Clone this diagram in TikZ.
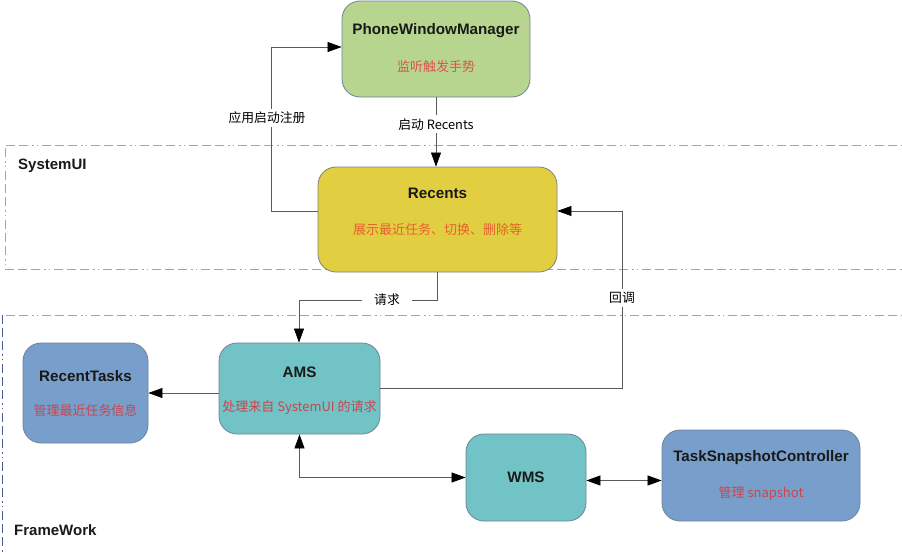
\documentclass[tikz,border=0pt]{standalone}
\usepackage{fontspec}
\setmainfont{Liberation Sans}
\newfontfamily\cjk{Noto Sans CJK SC}
\usetikzlibrary{arrows.meta,calc}
\definecolor{pwmfill}{HTML}{B8D58F}
\definecolor{recfill}{HTML}{E2CF41}
\definecolor{tealfill}{HTML}{72C3C5}
\definecolor{bluefill}{HTML}{789FCB}
\definecolor{boxline}{HTML}{6F8299}
\definecolor{secline}{HTML}{9AA4BA}
\definecolor{secleft}{HTML}{4A5A8E}
\definecolor{subred}{HTML}{D9534F}
\definecolor{suborange}{HTML}{E5602E}
\definecolor{subdark}{HTML}{C7464F}
\definecolor{conncol}{HTML}{5A5A5A}
\tikzset{
  blk/.style={draw=boxline, line width=0.8pt, rounded corners=18pt, inner sep=0pt},
  ttl/.style={font=\fontsize{15.2}{17}\selectfont\bfseries, text=black!90},
  sub/.style={font=\cjk\fontsize{13}{15}\selectfont},
  lbl/.style={font=\cjk\fontsize{12.8}{14}\selectfont, fill=white, inner sep=3pt},
  conn/.style={draw=conncol, line width=0.7pt},
  tip/.style={-{Triangle[length=14pt,width=10pt,color=black,fill=black]}},
  tips/.style={{Triangle[length=14pt,width=10pt,color=black,fill=black]}-{Triangle[length=14pt,width=10pt,color=black,fill=black]}},
  sec/.style={draw=secline, line width=0.8pt, dash pattern=on 9pt off 4pt on 9pt off 4pt on 9pt off 4pt on 1.5pt off 3pt on 1.5pt off 4pt},
  secttl/.style={font=\fontsize{15}{17}\selectfont\bfseries, anchor=west, inner sep=0pt, text=black!90}
}
\begin{document}
\begin{tikzpicture}[x=1pt,y=-1pt]
\clip (0,0) rectangle (902,554);
\fill[white] (0,0) rectangle (902,554);

% sections
\draw[sec] (910,145) -- (5,145) -- (5,269) -- (910,269);
\draw[sec] (910,315) -- (2,315);
\draw[sec,draw=secleft] (2,315) -- (2,560);
\node[secttl] (lsys) at (18,166) {SystemUI};
\node[secttl] (lfw) at (14,530) {FrameWork};

% boxes
\node[blk, fill=pwmfill, minimum width=188pt, minimum height=96pt] (pwm) at (436,49) {};
\node[ttl] (pwmt) at ($(pwm.center)+(0,-18)$) {PhoneWindowManager};
\node[sub, text=subred] (pwms) at ($(pwm.center)+(0,18)$) {监听触发手势};

\node[blk, fill=recfill, draw=black!50, minimum width=239pt, minimum height=105pt] (rec) at (437.5,219.5) {};
\node[ttl] (rect) at ($(rec.center)+(0,-26)$) {Recents};
\node[sub, text=suborange] (recs) at ($(rec.center)+(0,10)$) {展示最近任务、切换、删除等};

\node[blk, fill=tealfill, minimum width=161pt, minimum height=91pt] (ams) at (299.5,388.5) {};
\node[ttl] (amst) at ($(ams.center)+(0,-16.5)$) {AMS};
\node[sub, text=subdark] (amss) at ($(ams.center)+(0,19.5)$) {处理来自 SystemUI 的请求};

\node[blk, fill=bluefill, minimum width=125pt, minimum height=100pt] (rt) at (85.5,393) {};
\node[ttl] (rtt) at ($(rt.center)+(0,-17)$) {RecentTasks};
\node[sub, text=subdark] (rts) at ($(rt.center)+(0,18)$) {管理最近任务信息};

\node[blk, fill=tealfill, minimum width=120pt, minimum height=87pt] (wms) at (526,477.5) {};
\node[ttl] (wmst) at (wms.center) {WMS};

\node[blk, fill=bluefill, minimum width=198pt, minimum height=91pt] (tsc) at (761,475.5) {};
\node[ttl] (tsct) at ($(tsc.center)+(0,-17.5)$) {TaskSnapshotController};
\node[sub, text=subdark] (tscs) at ($(tsc.center)+(0,17.5)$) {管理 snapshot};

% connectors
\coordinate (c1) at (271,47);
\draw[conn,tip] ([yshift=8.5pt]rec.west) -| (c1) -- (c1 -| pwm.west);
\node[lbl] (l1) at (267,118) {应用启动注册};

\draw[conn,tip] (pwm.south) -- (pwm.south |- rec.north)
  node[lbl, pos=0.39] (l2) {启动 Recents};

\coordinate (c3) at (299,300);
\draw[conn,tip] (rec.south) |- (c3) -- (c3 |- ams.north);
\node[lbl, inner xsep=12pt] (l3) at (387,300) {请求};

\coordinate (c4) at (622,211);
\draw[conn,tip] (ams.east) -| (c4) -- ([yshift=8.5pt]rec.east);
\node[lbl] (l4) at (622,298) {回调};

\draw[conn,tip] (ams.west |- rt.east) -- (rt.east);

\draw[conn,tips] (ams.south) |- (wms.west);

\coordinate (c7) at ([yshift=-3pt]wms.east);
\draw[conn,tips] (c7) -- (c7 -| tsc.west);
\end{tikzpicture}
\end{document}
